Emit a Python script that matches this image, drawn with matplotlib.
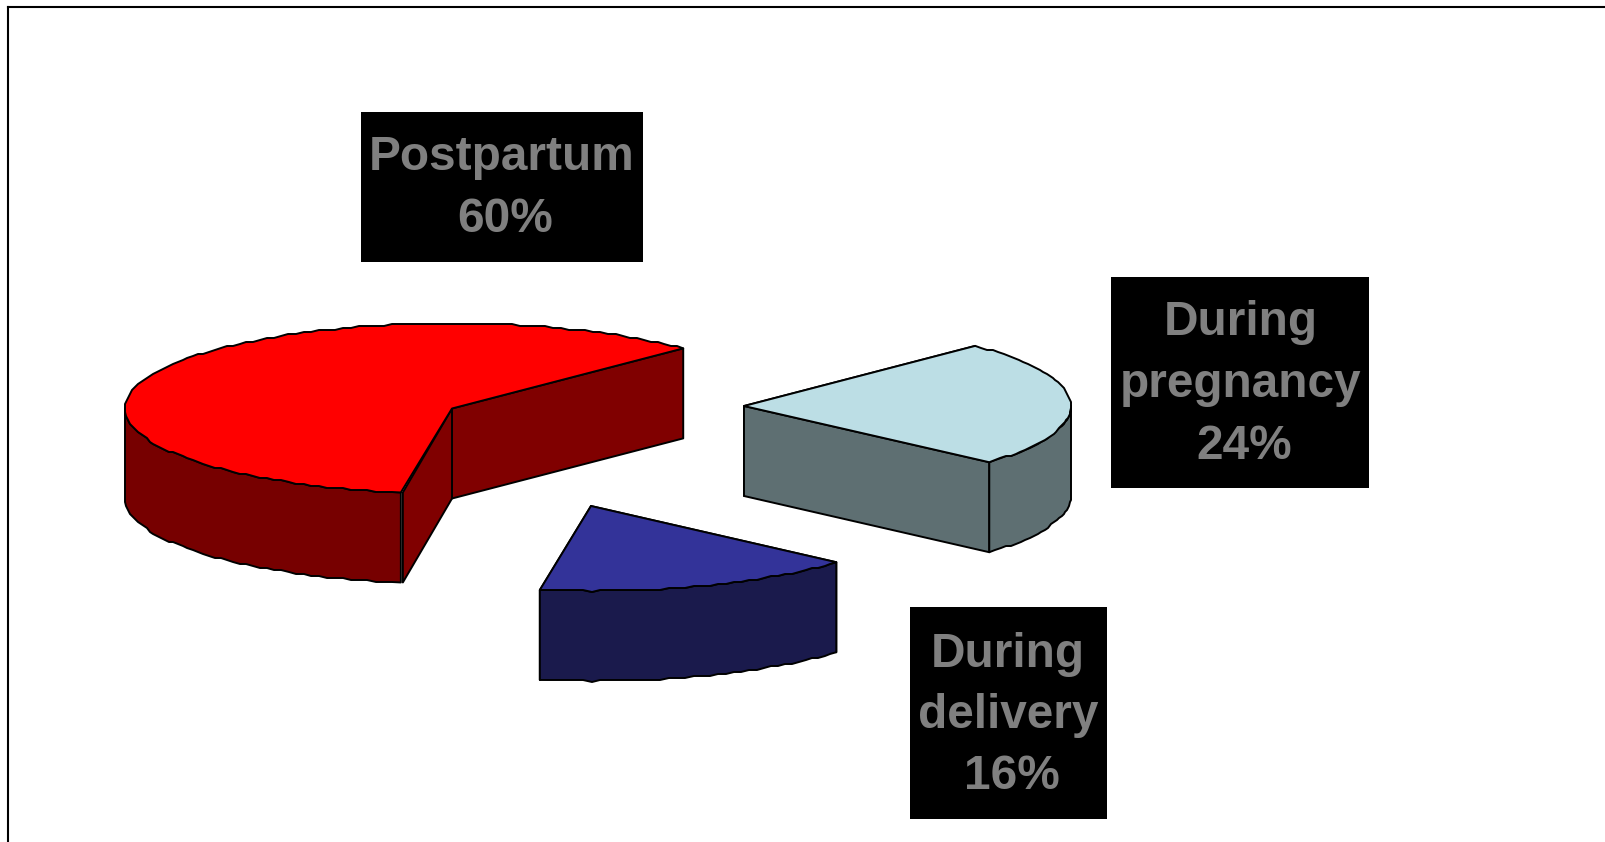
import numpy as np
import matplotlib
matplotlib.use('Agg')
import matplotlib.pyplot as plt
from matplotlib.patches import Polygon, Rectangle

categories = [["During", "pregnancy"], ["During", "delivery"], ["Postpartum"]]
shares = [24, 16, 60]

top_colors = ['#bcdee5', '#333399', '#ff0000']
side_colors = ['#5e6f72', '#1a1a4c', '#800000']
arc_colors = ['#5e6f72', '#1a1a4c', '#770000']

# apex of every exploded slice, in pixels
apex = [(744, 406), (591, 506), (452, 408.5)]
corner_gap = [0, 0, 2]

label_boxes = [(1111, 277, 1369, 488), (910, 607, 1107, 819), (361, 112, 643, 262)]
label_x = [1241, 1008, 502]
value_x = [1244, 1012, 505]
label_baselines = [[335, 397, 459], [667, 728, 789], [170, 232]]

radius = 327
squash = 0.26
depth = 90
start_angle = 45.0
edge_width = 1.4

plt.rcParams['font.family'] = ['Liberation Sans', 'DejaVu Sans']

figure = plt.figure(figsize=(16.06, 8.42), dpi=100)
axes = figure.add_axes([0, 0, 1, 1])
axes.set_xlim(0, 1606)
axes.set_ylim(842, 0)
axes.axis('off')


def rim_point(center, angle):
    a = np.radians(angle)
    return center[0] + radius * np.cos(a), center[1] - squash * radius * np.sin(a)


def rim(center, a0, a1):
    # the outline is slightly stepped, as if snapped to a coarse grid
    n = max(int(abs(a1 - a0) / 1.5), 2)
    angles = np.linspace(a0, a1, n + 1)
    points = [rim_point(center, a) for a in angles]
    stepped = [points[0]]
    for x, y in points[1:-1]:
        stepped.append((np.round(x), np.round(y / 2.0) * 2.0))
    stepped.append(points[-1])
    return stepped


def add_face(points, color):
    axes.add_patch(Polygon(points, closed=True, facecolor=color, edgecolor='black',
                           linewidth=edge_width, joinstyle='round'))


def draw_slice(center, a_high, a_low, top, side, arc, gap):
    # cut faces first, the one further back goes underneath
    cuts = []
    for a in [a_high, a_low]:
        cuts.append(rim_point(center, a))
    cuts.sort(key=lambda p: p[1])
    for i, (x, y) in enumerate(cuts):
        shift = gap if i == 1 else 0
        add_face([center, (x + shift, y), (x + shift, y + depth),
                  (center[0], center[1] + depth)], side)

    # outer wall: only the part that faces the viewer, sin(angle) < 0
    wall_from = max(a_low, -180)
    wall_to = min(a_high, 0)
    if wall_to > wall_from:
        upper = rim(center, wall_from, wall_to)
        lower = [(x, y + depth) for x, y in upper]
        add_face(upper + lower[::-1], arc)

    add_face([center] + rim(center, a_high, a_low), top)


angle = start_angle
for i in range(len(shares)):
    sweep = shares[i] / sum(shares) * 360.0
    draw_slice(apex[i], angle, angle - sweep, top_colors[i], side_colors[i], arc_colors[i], corner_gap[i])
    angle -= sweep

# labels on black boxes
for i in range(len(shares)):
    x0, y0, x1, y1 = label_boxes[i]
    axes.add_patch(Rectangle((x0, y0), x1 - x0, y1 - y0, facecolor='black', edgecolor='none', zorder=5))
    for line, base in zip(categories[i], label_baselines[i]):
        axes.text(label_x[i], base, line, ha='center', va='baseline', color='#808080',
                  fontsize=34.4, fontweight='bold', zorder=6)
    axes.text(value_x[i], label_baselines[i][-1], str(shares[i]) + '%', ha='center', va='baseline',
              color='#808080', fontsize=34.4, fontweight='bold', zorder=6)

# outer frame, runs off the right and bottom edges
axes.plot([8.5, 8.5], [860, 7], color='black', linewidth=1.5, solid_capstyle='projecting')
axes.plot([8.5, 1620], [7, 7], color='black', linewidth=1.5, solid_capstyle='projecting')

figure.savefig('out.png', dpi=100)
plt.close()
